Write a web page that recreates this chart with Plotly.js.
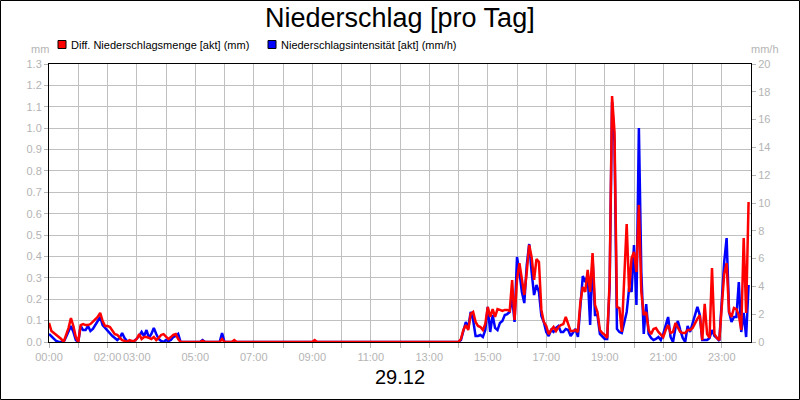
<!DOCTYPE html>
<html>
<head>
<meta charset="UTF-8">
<title>Niederschlag [pro Tag]</title>
<script src="https://cdn.plot.ly/plotly-3.0.1.min.js"></script>
<style>
  body { margin: 0; background: #fff; }
  #chart { width: 800px; height: 400px; }
</style>
</head>
<body>
<div id="chart"></div>
<script>
  const day = '2024-12-29';
  const nextDay = '2024-12-30';

  // Nacht: alle 5 Minuten ab 00:00
  const nightStart = '00:00';
  const nightMenge = [0.089, 0.051, 0.042, 0.033, 0.023, 0.014, 0, 0.033, 0.065, 0.112, 0.075, 0.023,
    0, 0.079, 0.084, 0.079, 0.079, 0.084, 0.094, 0.103, 0.117, 0.136, 0.098, 0.075,
    0.075, 0.070, 0.056, 0.037, 0.033, 0.019, 0.009, 0.005, 0, 0.009, 0.005, 0.005,
    0.014, 0.037, 0.014, 0.023, 0.023, 0.019, 0.014, 0.023, 0.009, 0.019, 0.033, 0.037,
    0.023, 0.014, 0.023, 0.033, 0.037, 0.014, 0, 0];
  const nightInt = [0.58, 0.43, 0.22, 0.07, 0, 0, 0, 0.36, 0.72, 1.15, 0.72, 0.14,
    0, 1.15, 0.86, 0.86, 1.15, 0.79, 0.94, 1.22, 1.51, 1.80, 1.22, 1.01,
    0.86, 0.65, 0.43, 0.29, 0.14, 0.29, 0.65, 0.29, 0.07, 0, 0, 0.07,
    0.22, 0.43, 0.72, 0.43, 0.86, 0.29, 0.58, 1.01, 0.58, 0.22, 0.07, 0,
    0.14, 0.07, 0.14, 0.36, 0.43, 0.58, 0, 0];

  // einzelne Werte am Vormittag
  const midTimes = ['05:10', '05:15', '05:20', '05:50', '05:55', '06:00', '06:15', '06:20', '06:25', '09:00', '09:05', '09:10', '13:55'];
  const midMenge = [0, 0.005, 0, 0, 0.014, 0, 0, 0.009, 0, 0, 0.009, 0, 0];
  const midInt = [0, 0.14, 0, 0, 0.65, 0, 0, 0, 0, 0, 0, 0, 0];

  // Nachmittag / Abend: alle 5 Minuten ab 14:00
  const eveStart = '14:00';
  const eveMenge = [
    0, 0.014, 0.056, 0.079, 0.056, 0.131, 0.140, 0.094, 0.075, 0.070, 0.056, 0.084,
    0.164, 0.117, 0.154, 0.117, 0.154, 0.150, 0.145, 0.150, 0.150, 0.145, 0.290, 0.103,
    0.290, 0.369, 0.281, 0.220, 0.327, 0.454, 0.397, 0.290, 0.388, 0.374, 0.150, 0.094,
    0.075, 0.037, 0.056, 0.070, 0.051, 0.070, 0.079, 0.084, 0.117, 0.079, 0.051, 0.051,
    0.056, 0.047, 0.187, 0.257, 0.234, 0.337, 0.234, 0.416, 0.173, 0.140, 0.056, 0.042,
    0.033, 0.019, 0.281, 1.150, 0.982, 0.164, 0.159, 0.047, 0.327, 0.552, 0.234, 0.393,
    0.421, 0.327, 0.641, 0.234, 0.126, 0.140, 0.056, 0.037, 0.061, 0.065, 0.047, 0.033,
    0.023, 0.056, 0.079, 0.042, 0.047, 0.089, 0.070, 0.047, 0.042, 0.042, 0.056, 0.056,
    0.065, 0.089, 0.108, 0.126, 0.009, 0.178, 0.037, 0.019, 0.346, 0.037, 0.019, 0.009,
    0.187, 0.318, 0.369, 0.140, 0.117, 0.159, 0.154, 0.126, 0.056, 0.486, 0.136, 0.655];
  const eveInt = [
    0, 0.14, 0.72, 1.44, 1.01, 2.16, 1.58, 0.43, 0.43, 0.50, 0.36, 0.86,
    2.52, 0.72, 1.94, 1.01, 0.86, 1.37, 1.51, 1.94, 2.01, 2.16, 3.24, 1.44,
    6.11, 5.03, 3.60, 2.80, 5.54, 7.05, 5.03, 3.38, 4.10, 3.60, 1.87, 1.44,
    0.72, 0.43, 0.86, 0.72, 1.01, 1.15, 0.72, 0.72, 0.94, 0.86, 0.43, 0.65,
    0.94, 0.36, 2.88, 4.75, 4.31, 4.82, 1.22, 6.04, 1.94, 1.94, 0.58, 0.36,
    0.22, 0.22, 3.96, 17.26, 14.38, 0.94, 0.72, 0.65, 1.44, 2.16, 3.88, 3.60,
    6.97, 2.66, 15.39, 5.03, 0.58, 2.73, 0.58, 0.29, 0.14, 0.22, 0.36, 0.14,
    0.58, 1.29, 1.80, 0.36, 0, 1.01, 1.51, 0.86, 0.29, 0, 1.15, 0.72,
    1.29, 2.01, 2.52, 1.94, 0.14, 0.14, 0.14, 0.29, 0.86, 0.43, 0.29, 0.07,
    3.24, 5.75, 7.48, 2.16, 1.44, 1.80, 1.80, 4.31, 0.72, 2.09, 0.36, 4.10];

  const hourLabels = ['00:00', '', '02:00', '03:00', '', '05:00', '', '07:00', '', '09:00', '', '11:00',
    '', '13:00', '', '15:00', '', '17:00', '', '19:00', '', '21:00', '', '23:00'];

  function pad(n) { return String(n).padStart(2, '0'); }

  // 5-Minuten-Raster ab Startzeit
  function steps(start, n) {
    const [h, m] = start.split(':').map(Number);
    const out = [];
    for (let i = 0; i < n; i++) {
      const t = h * 60 + m + i * 5;
      out.push(day + ' ' + pad(Math.floor(t / 60)) + ':' + pad(t % 60));
    }
    return out;
  }

  const times = steps(nightStart, nightMenge.length)
    .concat(midTimes.map(t => day + ' ' + t), steps(eveStart, eveMenge.length));
  const menge = nightMenge.concat(midMenge, eveMenge);
  const intens = nightInt.concat(midInt, eveInt);
  const hourVals = hourLabels.map((_, i) => day + ' ' + pad(i) + ':00');

  const grey = '#b4b4b4';

  // blau unten (rechte Achse), rot darueber (linke Achse als Overlay)
  const traces = [
    {
      x: times, y: intens, yaxis: 'y', type: 'scatter', mode: 'lines',
      name: 'Niederschlagsintensität [akt] (mm/h)',
      line: { color: '#0000ff', width: 2.5 }
    },
    {
      x: times, y: menge, yaxis: 'y2', type: 'scatter', mode: 'lines',
      name: 'Diff. Niederschlagsmenge [akt] (mm)',
      line: { color: '#ff0000', width: 2.5 }
    }
  ];

  // px -> paper
  const px = v => (v - 49) / 702;
  const py = v => (342 - v) / 278;

  const layout = {
    width: 800, height: 400,
    margin: { l: 49, r: 49, t: 64, b: 58 },
    paper_bgcolor: '#fff', plot_bgcolor: '#fff',
    font: { family: 'Liberation Sans, Arial, sans-serif', size: 11, color: grey },
    showlegend: false,
    xaxis: {
      type: 'date',
      range: [day + ' 00:00', nextDay + ' 00:00'],
      tickmode: 'array', tickvals: hourVals, ticktext: hourLabels, tickangle: 0,
      showgrid: true, gridcolor: '#c0c0c0',
      ticks: 'outside', ticklen: 5, tickcolor: grey,
      showline: true, linecolor: '#000', linewidth: 1, mirror: true,
      zeroline: false
    },
    yaxis: {
      range: [0, 20], dtick: 2, side: 'right',
      showgrid: false,
      ticks: 'outside', ticklen: 4, tickcolor: grey,
      showline: true, linecolor: '#000', zeroline: false
    },
    yaxis2: {
      range: [0, 1.3], dtick: 0.1, tickformat: '.1f', overlaying: 'y', side: 'left',
      showgrid: true, gridcolor: '#c0c0c0',
      ticks: 'outside', ticklen: 4, tickcolor: grey,
      showline: true, linecolor: '#000', zeroline: false
    },
    annotations: [
      { text: 'Niederschlag [pro Tag]', xref: 'paper', yref: 'paper', x: 0.5, y: py(18),
        xanchor: 'center', yanchor: 'middle', showarrow: false, font: { size: 27, color: '#000' } },
      { text: 'Diff. Niederschlagsmenge [akt] (mm)', xref: 'paper', yref: 'paper', x: px(69), y: py(45),
        xanchor: 'left', yanchor: 'middle', showarrow: false, font: { size: 11, color: '#000' } },
      { text: 'Niederschlagsintensität [akt] (mm/h)', xref: 'paper', yref: 'paper', x: px(279), y: py(45),
        xanchor: 'left', yanchor: 'middle', showarrow: false, font: { size: 11, color: '#000' } },
      { text: 'mm', xref: 'paper', yref: 'paper', x: px(40), y: py(49),
        xanchor: 'center', yanchor: 'middle', showarrow: false, font: { size: 11, color: grey } },
      { text: 'mm/h', xref: 'paper', yref: 'paper', x: px(765), y: py(49),
        xanchor: 'center', yanchor: 'middle', showarrow: false, font: { size: 11, color: grey } },
      { text: '29.12', xref: 'paper', yref: 'paper', x: 0.5, y: py(377),
        xanchor: 'center', yanchor: 'middle', showarrow: false, font: { size: 20, color: '#000' } }
    ],
    shapes: [
      { type: 'rect', xref: 'paper', yref: 'paper', x0: px(58), x1: px(66), y0: py(48.5), y1: py(40.5),
        fillcolor: '#ff0000', line: { color: '#000', width: 1 } },
      { type: 'rect', xref: 'paper', yref: 'paper', x0: px(268), x1: px(276), y0: py(48.5), y1: py(40.5),
        fillcolor: '#0000ff', line: { color: '#000', width: 1 } },
      { type: 'rect', xref: 'paper', yref: 'paper', x0: px(0.5), x1: px(799.5), y0: py(399.5), y1: py(0.5),
        line: { color: '#000', width: 1 } }
    ]
  };

  Plotly.newPlot('chart', traces, layout, { staticPlot: true });
</script>
</body>
</html>
